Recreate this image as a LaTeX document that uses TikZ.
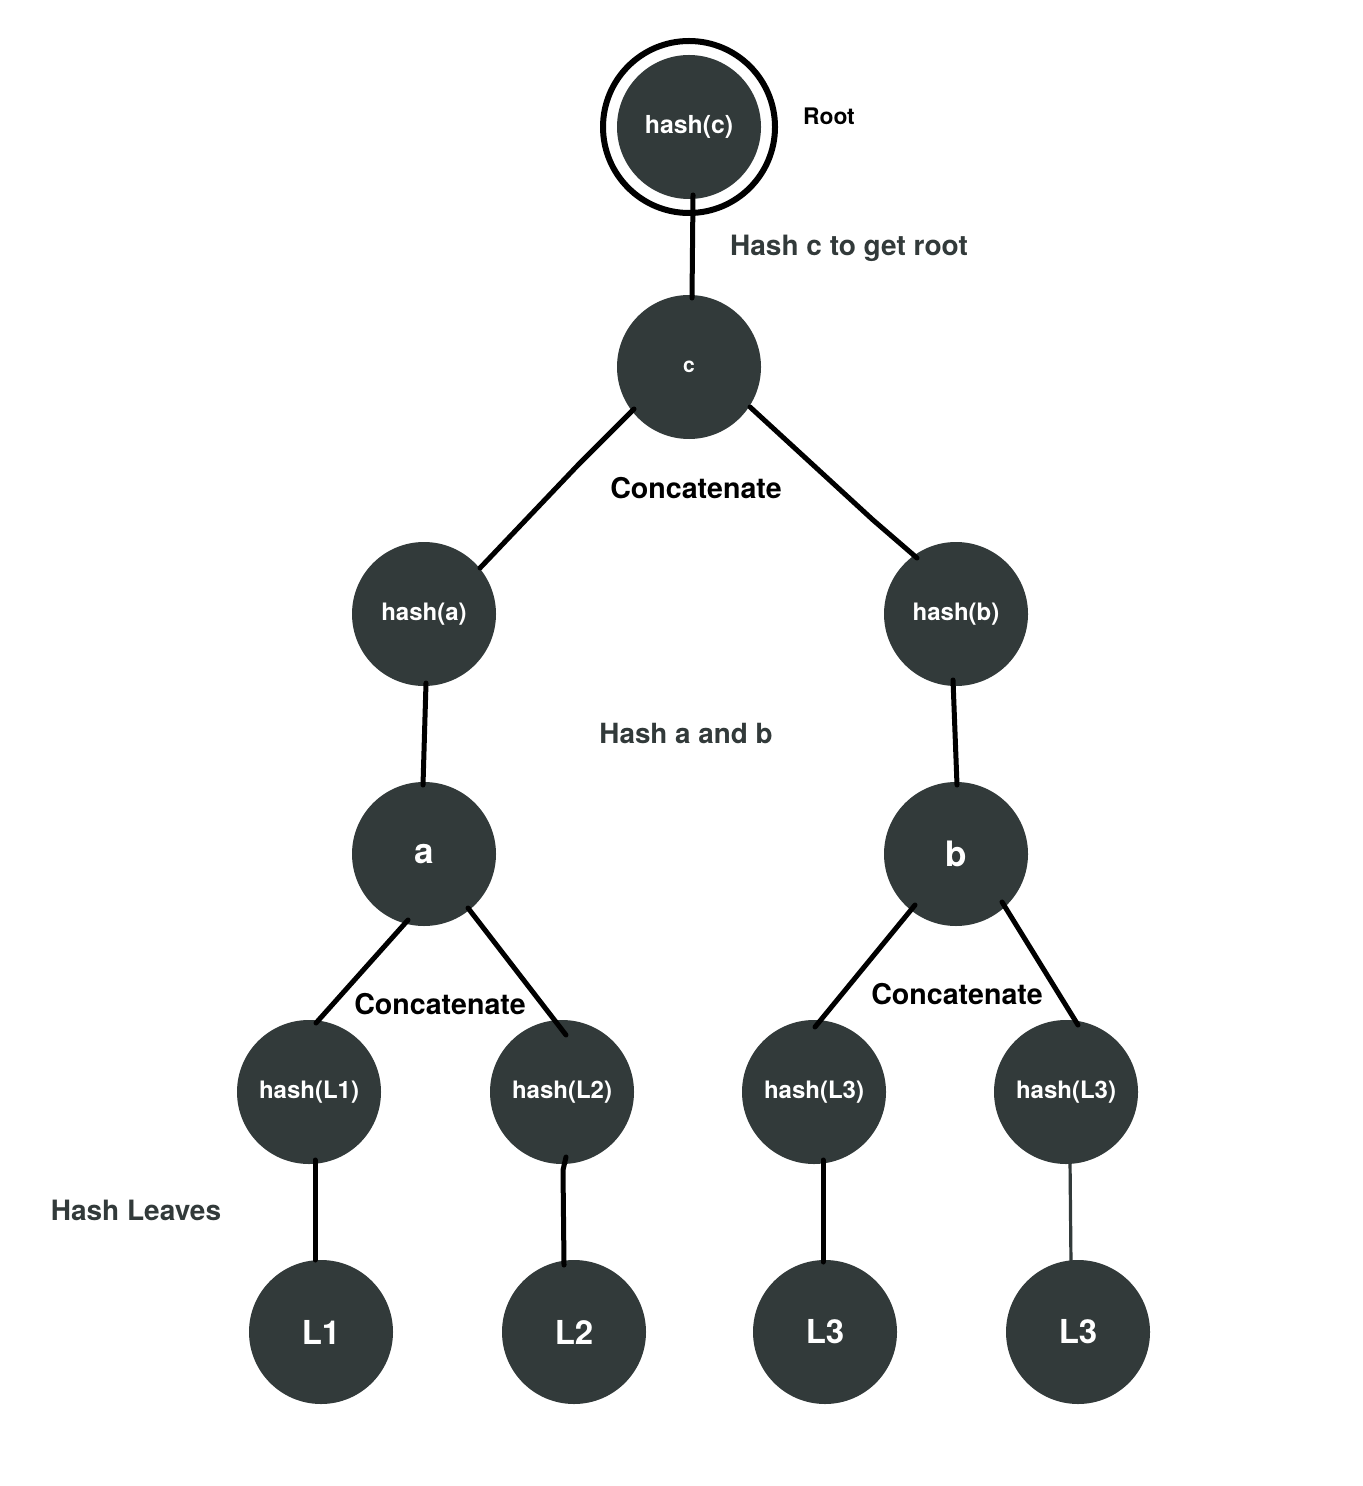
\documentclass[tikz,border=0pt]{standalone}
\usepackage{fontspec}
\setmainfont{TeX Gyre Heros}
\definecolor{nodefill}{RGB}{50,58,58}
\definecolor{labgrey}{RGB}{50,58,58}
\definecolor{lineblack}{RGB}{0,0,0}
\begin{document}
\begin{tikzpicture}[x=0.5pt,y=-0.5pt,
  hnode/.style={circle,fill=nodefill,text=white,inner sep=0pt,minimum size=72pt,font=\bfseries\fontsize{12}{14}\selectfont},
  bignode/.style={hnode,font=\bfseries\fontsize{16.5}{20}\selectfont},
  conn/.style={draw=lineblack,line width=2.5pt,line cap=round,line join=round},
  thinconn/.style={draw=nodefill,line width=1.6pt,line cap=round},
  blacklab/.style={font=\bfseries\fontsize{14.3}{16}\selectfont,text=black,inner sep=0pt},
  greylab/.style={font=\bfseries\fontsize{14}{16}\selectfont,text=labgrey,inner sep=0pt}]
\useasboundingbox (0,0) rectangle (1363,1486);
\fill[white] (0,0) rectangle (1363,1486);
% nodes
\node[hnode,font=\bfseries\fontsize{12.4}{14}\selectfont] (hc) at (689,127) {hash(c)};
\draw[line width=3pt] (hc.center) circle[radius=86];
\node[hnode,font=\bfseries\fontsize{10.5}{12}\selectfont] (c) at (689,367) {c};
\node[hnode] (ha) at (424,614) {hash(a)};
\node[hnode] (hb) at (956,614) {hash(b)};
\node[hnode,font=\bfseries\fontsize{17.5}{20}\selectfont] (a) at (424,854) {a};
\node[hnode,font=\bfseries\fontsize{17.5}{20}\selectfont] (b) at (956,854) {b};
\node[hnode] (hl1) at (309,1092) {hash(L1)};
\node[hnode] (hl2) at (562,1092) {hash(L2)};
\node[hnode] (hl3) at (814,1092) {hash(L3)};
\node[hnode] (hl4) at (1066,1092) {hash(L3)};
\node[bignode] (l1) at (321,1332) {L1};
\node[bignode] (l2) at (574,1332) {L2};
\node[bignode] (l3) at (825,1332) {L3};
\node[bignode] (l4) at (1078,1332) {L3};
% connectors
\draw[conn] ([shift={(4,68)}]hc.center) -- ([shift={(3,-69)}]c.center);
\draw[conn] ([shift={(-55,42)}]c.center) -- (578,465) -- ([shift={(56,-46)}]ha.center);
\draw[conn] ([shift={(61,40)}]c.center) -- (873,520) -- ([shift={(-39,-56)}]hb.center);
\draw[conn] ([shift={(2,69)}]ha.center) -- ([shift={(-1,-69)}]a.center);
\draw[conn] ([shift={(-3,66)}]hb.center) -- ([shift={(1,-69)}]b.center);
\draw[conn] ([shift={(-16,66)}]a.center) -- ([shift={(7,-69)}]hl1.center);
\draw[conn] ([shift={(44,54)}]a.center) -- ([shift={(4,-57)}]hl2.center);
\draw[conn] ([shift={(-41,51)}]b.center) -- ([shift={(1,-65)}]hl3.center);
\draw[conn] ([shift={(46,48)}]b.center) -- ([shift={(12,-67)}]hl4.center);
\draw[conn] ([shift={(6,68)}]hl1.center) -- ([shift={(-6,-72)}]l1.center);
\draw[conn] ([shift={(4,65)}]hl2.center) -- (563,1170) -- ([shift={(-10,-67)}]l2.center);
\draw[conn] ([shift={(9,68)}]hl3.center) -- ([shift={(-2,-70)}]l3.center);
\draw[thinconn] ([shift={(4,68)}]hl4.center) -- ([shift={(-7,-67)}]l4.center);
% labels
\node[blacklab,font=\bfseries\fontsize{11.4}{13}\selectfont] (lroot) at (829,116) {Root};
\node[greylab] (lhc) at (849,248) {Hash c to get root};
\node[blacklab] (lcat1) at (696,488) {Concatenate};
\node[greylab,font=\bfseries\fontsize{13.9}{16}\selectfont] (lhab) at (686,733) {Hash a and b};
\node[blacklab] (lcat2) at (440,1004) {Concatenate};
\node[blacklab] (lcat3) at (957,994) {Concatenate};
\node[greylab] (lleaves) at (136,1210) {Hash Leaves};
\end{tikzpicture}
\end{document}
